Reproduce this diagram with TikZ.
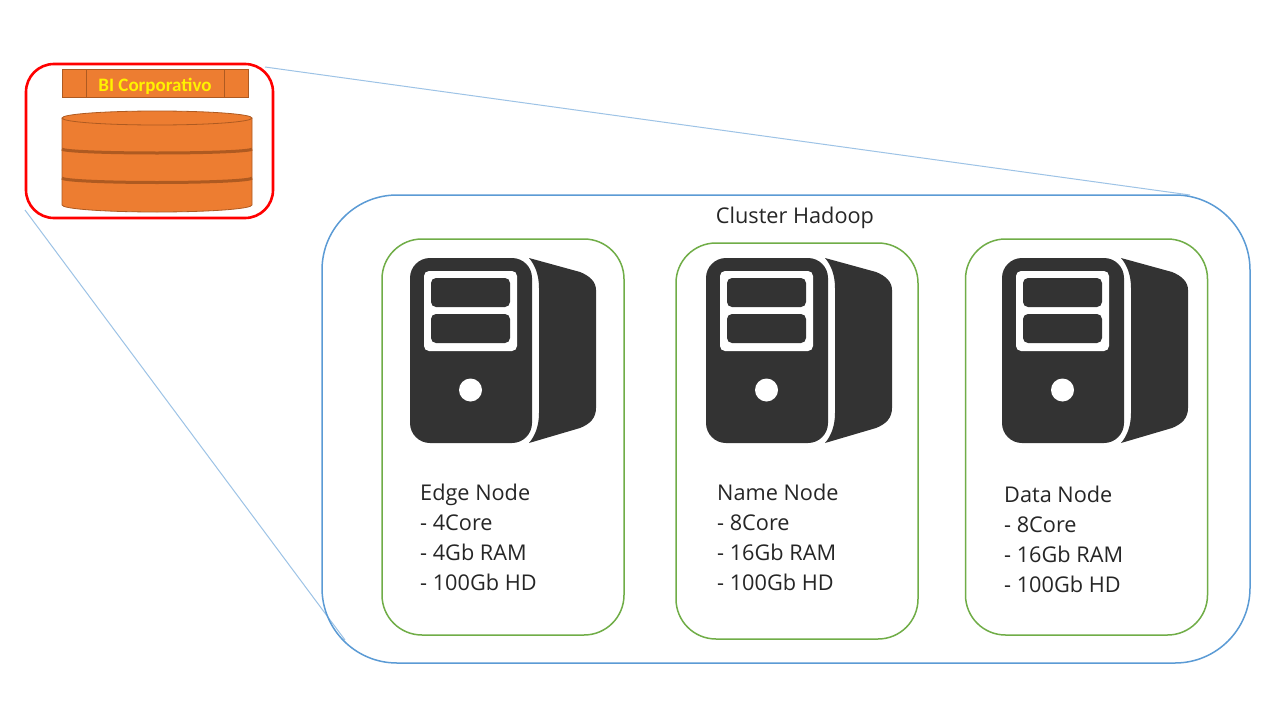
\documentclass[tikz,border=0pt]{standalone}
\usepackage{fontspec}
\setmainfont{Open Sans}
\newfontfamily\bifont{Carlito}
\definecolor{clusterblue}{HTML}{5B9BD5}
\definecolor{zoomblue}{HTML}{9DC3E6}
\definecolor{nodegreen}{HTML}{70AD47}
\definecolor{biorange}{HTML}{ED7D31}
\definecolor{biedge}{HTML}{AE5A21}
\definecolor{serverdark}{HTML}{333333}
\tikzset{
  hostbox/.style={draw=nodegreen, line width=1.5pt, rounded corners=40pt, minimum width=242pt, minimum height=396pt, inner sep=0pt},
  hosttext/.style={anchor=north west, align=left, inner sep=0pt, text=black!85, font=\fontsize{21.7}{30}\selectfont},
  zoomline/.style={draw=zoomblue, line width=1pt},
  bipart/.style={fill=biorange, draw=biedge, line width=0.8pt},
  servericon/.pic={
    \fill[serverdark, rounded corners=20pt] (0,0) rectangle (122,185);
    \fill[white, rounded corners=5pt] (14,13) rectangle (107,93);
    \fill[serverdark, rounded corners=5pt] (21,20) rectangle (100,49);
    \fill[serverdark, rounded corners=5pt] (21,56) rectangle (100,85);
    \fill[white] (60.5,132) circle (11.5);
    \fill[serverdark] (119,0) -- (170,14) .. controls (180,18) and (186,24) .. (186,32)
      -- (186,150) .. controls (186,160) and (180,166) .. (170,170) -- (119,185)
      .. controls (125,178) and (129,168) .. (129,155) -- (129,30)
      .. controls (129,17) and (125,7) .. (119,0) -- cycle;
  }
}

\begin{document}
\begin{tikzpicture}[x=1pt,y=-1pt]
  \useasboundingbox[fill=white] (0,0) rectangle (1280,720);

  % Zoom lines
  \coordinate (zoomTopStart) at (265,67);
  \coordinate (zoomTopEnd) at (1190,195);
  \coordinate (zoomLowStart) at (25,210);
  \coordinate (zoomLowEnd) at (345,640);
  \draw[zoomline] (zoomTopStart) -- (zoomTopEnd);
  \draw[zoomline] (zoomLowStart) -- (zoomLowEnd);

  % BI box
  \node[draw=red, line width=2.6pt, rounded corners=28pt, minimum width=247pt, minimum height=154pt, inner sep=0pt] (biBox) at (149.5,141) {};
  \draw[bipart] (62,69) rectangle (248,97);
  \draw[bipart] (86,69) -- (86,97) (224,69) -- (224,97);
  \node[text=yellow, font=\bifont\fontsize{19}{22}\selectfont\bfseries] (biLabel) at (155,86.5) {BI Corporativo};

  % Disk stack
  \draw[bipart] (62,118) -- (62,205) arc[start angle=180, end angle=360, x radius=95, y radius=-7] -- (252,118);
  \draw[bipart] (157,118) ellipse[x radius=95, y radius=7];
  \draw[biedge, line width=3pt] (62,149) arc[start angle=180, end angle=360, x radius=95, y radius=-4];
  \draw[biedge, line width=3pt] (62,178) arc[start angle=180, end angle=360, x radius=95, y radius=-4.5];

  % Cluster
  \node[draw=clusterblue, line width=1.5pt, rounded corners=75pt, minimum width=928pt, minimum height=468pt, inner sep=0pt] (clusterBox) at (786,429) {};
  \node[text=black!85, font=\fontsize{21.7}{26}\selectfont] (clusterLabel) at (795,217.5) {Cluster Hadoop};

  % Hosts
  \node[hostbox] (edgeBox) at (503,437) {};
  \node[hostbox] (nameBox) at (797,441) {};
  \node[hostbox] (dataBox) at (1086.5,437) {};

  \pic at (410,258) {servericon};
  \pic at (706,258) {servericon};
  \pic at (1002,258) {servericon};

  \node[hosttext] (edgeText) at (420,483.5) {Edge Node\\- 4Core\\- 4Gb RAM\\- 100Gb HD};
  \node[hosttext] (nameText) at (717,483.5) {Name Node\\- 8Core\\- 16Gb RAM\\- 100Gb HD};
  \node[hosttext] (dataText) at (1004,485.5) {Data Node\\- 8Core\\- 16Gb RAM\\- 100Gb HD};
\end{tikzpicture}
\end{document}
